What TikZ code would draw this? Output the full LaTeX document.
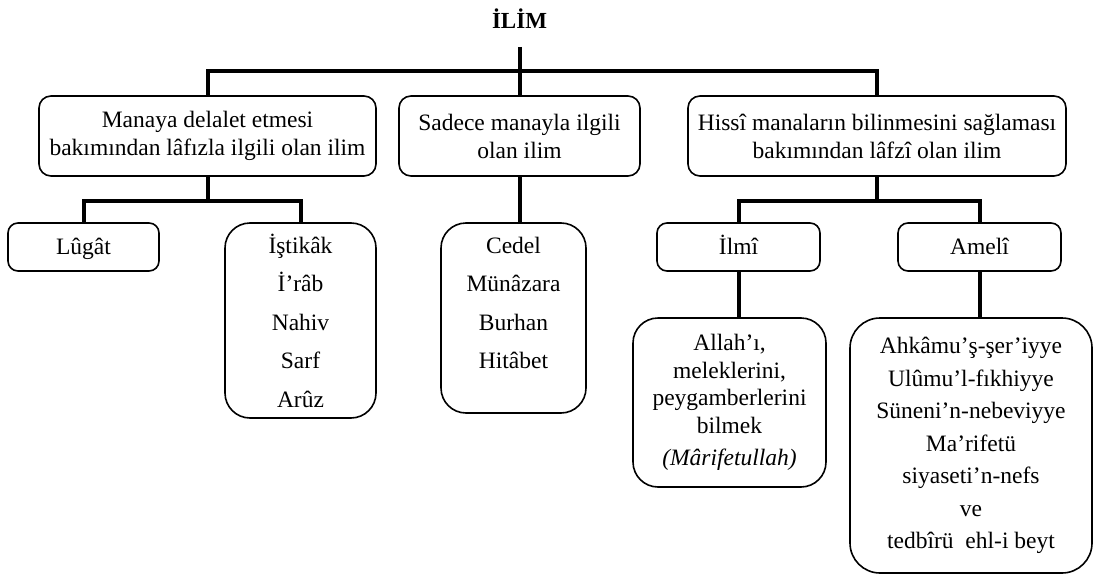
\documentclass[tikz,border=0pt]{standalone}
\usepackage{fontspec}
\setmainfont{Liberation Serif}
\begin{document}
\begin{tikzpicture}[x=1pt,y=-1pt,
  conn/.style={line width=4pt, line join=miter},
  frame/.style={draw, line width=1.6pt, align=center, inner sep=0pt},
  topbox/.style={frame, rounded corners=12pt, minimum height=80pt, font=\fontsize{23.5}{28}\selectfont},
  leafbox/.style={frame, rounded corners=10pt, minimum height=48pt, text height=16pt, text depth=2pt, font=\fontsize{23.5}{28}\selectfont},
  listbox/.style={frame, rounded corners=25pt},
  listtext/.style={align=center, inner sep=0pt, font=\fontsize{23.5}{38.5}\selectfont},
]
\useasboundingbox (0,0) rectangle (1094,575);

% title
\node[font=\fontsize{23}{27}\selectfont\bfseries, inner sep=0pt] (title) at (519.5,19) {İLİM};
\coordinate (root) at (519.5,47);

% first level
\node[topbox, minimum width=337pt] (b1) at (207.5,136)
  {Manaya delalet etmesi\\bakımından lâfızla ilgili olan ilim};
\node[topbox, minimum width=241pt] (b2) at (519.5,136)
  {Sadece manayla ilgili\\olan ilim};
\node[topbox, minimum width=378pt] (b3) at (877,136)
  {Hissî manaların bilinmesini sağlaması\\bakımından lâfzî olan ilim};

% second level
\node[leafbox, minimum width=151pt] (lug) at (83.5,247) {Lûgât};
\node[listbox, listtext, minimum width=151pt, minimum height=195pt] (ist) at (300.5,320.5)
  {İştikâk\\İ’râb\\Nahiv\\Sarf\\Arûz};
\node[listbox, minimum width=145pt, minimum height=190pt] (ced) at (513.5,318) {};
\node[listtext] (cedtext) at (513.5,303) {Cedel\\Münâzara\\Burhan\\Hitâbet};
\node[leafbox, minimum width=163pt] (ilmi) at (738.5,247) {İlmî};
\node[leafbox, minimum width=163pt] (ameli) at (979.5,247) {Amelî};

% third level
\node[listbox, minimum width=193pt, minimum height=169pt, font=\fontsize{23.5}{27.5}\selectfont] (allah) at (729.5,402.5)
  {Allah’ı,\\meleklerini,\\peygamberlerini\\bilmek\\[5pt]\textit{(Mârifetullah)}};
\node[listbox, rounded corners=30pt, minimum width=242pt, minimum height=255pt, font=\fontsize{23.5}{32.5}\selectfont] (ahk) at (971,445.5)
  {Ahkâmu’ş-şer’iyye\\Ulûmu’l-fıkhiyye\\Süneni’n-nebeviyye\\Ma’rifetü\\siyaseti’n-nefs\\ve\\tedbîrü\ \ ehl-i beyt};

% connectors
\draw[conn] (root) -- (b2.north);
\draw[conn] (b1.north) -- ++(0,-24) -| (b3.north);
\draw[conn] (b1.south) -- ++(0,24) coordinate (j1);
\draw[conn] (lug.north) |- (j1) -| (ist.north);
\draw[conn] (b2.south) -- (b2.south |- ced.north);
\draw[conn] (b3.south) -- ++(0,24) coordinate (j3);
\draw[conn] (ilmi.north) |- (j3) -| (ameli.north);
\draw[conn] (ilmi.south) -- (ilmi.south |- allah.north);
\draw[conn] (ameli.south) -- (ameli.south |- ahk.north);
\end{tikzpicture}
\end{document}
